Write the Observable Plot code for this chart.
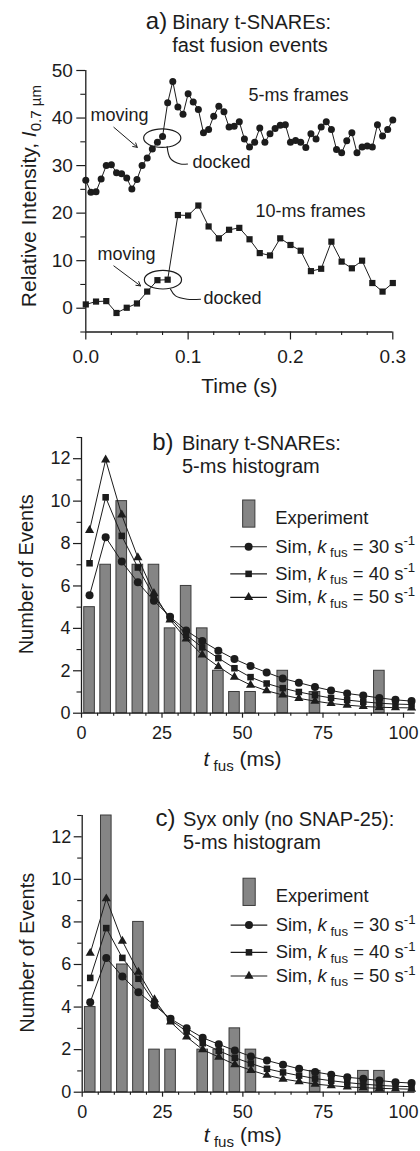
<!DOCTYPE html>
<html>
<head>
<meta charset="utf-8">
<script src="https://cdn.jsdelivr.net/npm/d3@7"></script>
<script src="https://cdn.jsdelivr.net/npm/@observablehq/plot@0.6"></script>
<style>
  body { margin: 0; background: #fff; width: 420px; }
  #chart svg { display: block; }
</style>
</head>
<body>
<div id="chart"></div>
<script>
// ---------------- DATA ----------------
// Panel a: relative intensity vs time
const time5ms = [0,0.005,0.01,0.015,0.02,0.025,0.03,0.035,0.04,0.045,0.05,0.055,0.06,0.065,0.07,0.075,0.08,0.085,0.09,0.095,0.1,0.105,0.11,0.115,0.12,0.125,0.13,0.135,0.14,0.145,0.15,0.155,0.16,0.165,0.17,0.175,0.18,0.185,0.19,0.195,0.2,0.205,0.21,0.215,0.22,0.225,0.23,0.235,0.24,0.245,0.25,0.255,0.26,0.265,0.27,0.275,0.28,0.285,0.29,0.295,0.3];
const intensity5ms = [26.9,24.4,24.5,27.2,30.0,30.2,28.5,28.3,27.4,25.1,27.1,30.0,31.6,33.5,34.9,36.1,43.2,47.7,42.3,40.8,45.1,43.4,41.8,36.9,37.6,40.4,42.5,41.3,38.1,38.3,39.2,35.6,33.9,34.9,37.9,34.9,36.7,37.8,38.5,38.6,34.9,35.3,34.9,33.8,36.7,35.6,38.1,39.2,37.6,33.4,32.7,35.2,36.9,32.7,33.9,34.1,33.9,38.6,36.2,37.6,39.6];
const time10ms = [0,0.01,0.02,0.03,0.04,0.05,0.06,0.07,0.08,0.09,0.1,0.11,0.12,0.13,0.14,0.15,0.16,0.17,0.18,0.19,0.2,0.21,0.22,0.23,0.24,0.25,0.26,0.27,0.28,0.29,0.3];
const intensity10ms = [0.8,1.4,1.5,-1.0,0.1,1.0,3.5,5.9,6.0,19.6,19.5,21.6,17.2,14.7,16.5,16.9,14.5,11.6,11.1,14.7,13.3,12.1,7.8,8.3,14.0,9.8,8.4,10.0,5.3,3.5,5.3];

// Panels b, c: histograms (5-ms bins) and simulations
const binCenters = [2.5,7.5,12.5,17.5,22.5,27.5,32.5,37.5,42.5,47.5,52.5,57.5,62.5,67.5,72.5,77.5,82.5,87.5,92.5,97.5];
const simTimes = [2.5,7.5,12.5,17.5,22.5,27.5,32.5,37.5,42.5,47.5,52.5,57.5,62.5,67.5,72.5,77.5,82.5,87.5,92.5,97.5,102.5];
const kFus = [30, 40, 50];

const expB = [5,7,10,7,7,4,6,4,2,1,1,0,2,0,1,0,0,0,2,0];
const simB30 = [5.56,8.3,7.15,6.17,5.3,4.55,3.9,3.4,2.95,2.55,2.22,1.92,1.64,1.44,1.24,1.07,0.93,0.83,0.72,0.63,0.57];
const simB40 = [7.07,10.18,8.36,6.87,5.5,4.5,3.7,3.1,2.6,2.12,1.7,1.4,1.18,1.0,0.85,0.72,0.62,0.54,0.47,0.43,0.41];
const simB50 = [8.62,11.95,9.35,7.34,5.65,4.4,3.5,2.75,2.2,1.7,1.33,1.06,0.86,0.7,0.57,0.46,0.38,0.32,0.28,0.26,0.25];

const expC = [4,13,6,8,2,2,0,2,2,3,2,0,0,0,1,0,0,1,1,0];
const simC30 = [4.23,6.31,5.44,4.7,4.08,3.45,3.0,2.56,2.25,1.96,1.68,1.49,1.29,1.1,0.95,0.82,0.7,0.63,0.55,0.47,0.43];
const simC40 = [5.37,7.71,6.31,5.33,4.2,3.4,2.85,2.3,1.95,1.62,1.35,1.1,0.93,0.78,0.64,0.54,0.45,0.38,0.32,0.28,0.26];
const simC50 = [6.53,9.09,7.1,5.64,4.35,3.3,2.6,2.0,1.65,1.3,1.03,0.8,0.62,0.5,0.38,0.31,0.25,0.21,0.18,0.16,0.14];

// Tick values
const yMajorA = [0,10,20,30,40,50];
const yMinorA = [-5,5,15,25,35,45];
const xMajorA = [0,0.1,0.2,0.3];
const xMinorA = [0.025,0.05,0.075,0.125,0.15,0.175,0.225,0.25,0.275];
const yMajorH = [0,2,4,6,8,10,12];
const yMinorH = [1,3,5,7,9,11,13];
const xMajorH = [0,25,50,75,100];
const xMinorH = [5,10,15,20,30,35,40,45,55,60,65,70,80,85,90,95];

// ---------------- STYLE ----------------
const FONT = "'Liberation Sans', Arial, Helvetica, sans-serif";
const INK = "#1c1c1c";
const BAR = "#858585";
const BAR_EDGE = "#3c3c3c";
const SYMBOLS = ["circle", "square", "triangle"];
const SYM_R = {circle: 4, square: 3.7, triangle: 3.4};
const TITLE_FS = 20;

// ellipse symbol (2:1) for annotations
const ellipseSymbol = {
  draw(ctx, size) {
    const ry = Math.sqrt(size / Math.PI), rx = 2 * ry, k = 0.5523;
    ctx.moveTo(rx, 0);
    ctx.bezierCurveTo(rx, k * ry, k * rx, ry, 0, ry);
    ctx.bezierCurveTo(-k * rx, ry, -rx, k * ry, -rx, 0);
    ctx.bezierCurveTo(-rx, -k * ry, -k * rx, -ry, 0, -ry);
    ctx.bezierCurveTo(k * rx, -ry, rx, -k * ry, rx, 0);
    ctx.closePath();
  }
};

const T = d => d;

// ---------------- PANEL A ----------------
const s5 = time5ms.map((t, i) => ({t, v: intensity5ms[i]}));
const s10 = time10ms.map((t, i) => ({t, v: intensity10ms[i]}));

const plotA = Plot.plot({
  width: 420, height: 400,
  marginLeft: 85.3, marginRight: 27.7, marginTop: 70, marginBottom: 68.5,
  x: {domain: [0, 0.3]},
  y: {domain: [-5, 50]},
  style: {fontFamily: FONT, color: INK, background: "white", display: "block"},
  marks: [
    Plot.ruleY([-5], {stroke: INK, strokeWidth: 1.3}),
    Plot.ruleX([0], {stroke: INK, strokeWidth: 1.3}),
    Plot.axisY(yMajorA, {tickSize: 9, tickPadding: 4, fontSize: 19, label: null, strokeWidth: 1.2}),
    Plot.axisY(yMinorA, {tickSize: 5, tickFormat: () => "", label: null, strokeWidth: 1.1}),
    Plot.axisX(xMajorA, {tickSize: 8, tickPadding: 9, fontSize: 19, label: null, tickFormat: d3.format(".1f"), strokeWidth: 1.2}),
    Plot.axisX(xMinorA, {tickSize: 3.5, tickFormat: () => "", label: null, strokeWidth: 1.1}),

    Plot.line(s5, {x: "t", y: "v", stroke: INK, strokeWidth: 1}),
    Plot.dot(s5, {x: "t", y: "v", r: 3.5, fill: INK, stroke: "none"}),
    Plot.line(s10, {x: "t", y: "v", stroke: INK, strokeWidth: 1}),
    Plot.dot(s10, {x: "t", y: "v", symbol: "square", r: 3.5, fill: INK, stroke: "none"}),

    // annotations
    Plot.text(["5-ms frames"], {x: 0.159, y: 44.75, text: T, textAnchor: "start", fontSize: 18, fill: INK}),
    Plot.text(["10-ms frames"], {x: 0.1658, y: 20.3, text: T, textAnchor: "start", fontSize: 18, fill: INK}),
    Plot.text(["moving"], {x: 0.0047, y: 40.6, text: T, textAnchor: "start", fontSize: 18, fill: INK}),
    Plot.text(["moving"], {x: 0.0114, y: 11.4, text: T, textAnchor: "start", fontSize: 18, fill: INK}),
    Plot.text(["docked"], {x: 0.1043, y: 30.7, text: T, textAnchor: "start", fontSize: 18, fill: INK}),
    Plot.text(["docked"], {x: 0.115, y: 2.2, text: T, textAnchor: "start", fontSize: 18, fill: INK}),
    Plot.arrow([{x1: 0.0274, y1: 38.05, x2: 0.0503, y2: 33.84}, {x1: 0.0274, y1: 8.9, x2: 0.0535, y2: 4.7}],
      {x1: "x1", y1: "y1", x2: "x2", y2: "y2", stroke: INK, strokeWidth: 1, headLength: 7}),
    Plot.dot([{x: 0.0747, y: 35.78}, {x: 0.0754, y: 6.0}],
      {x: "x", y: "y", r: 9.3, symbol: ellipseSymbol, fill: "none", stroke: INK, strokeWidth: 1.2}),
    Plot.line([
      {id: 1, x: 0.0795, y: 33.99}, {id: 1, x: 0.0828, y: 31.46}, {id: 1, x: 0.0925, y: 30.34}, {id: 1, x: 0.0994, y: 30.34},
      {id: 2, x: 0.0828, y: 4.0}, {id: 2, x: 0.0877, y: 2.59}, {id: 2, x: 0.0991, y: 1.9}, {id: 2, x: 0.1121, y: 1.9}
    ], {x: "x", y: "y", z: "id", curve: "catmull-rom", stroke: INK, strokeWidth: 1.1}),

    // title
    Plot.text(["a)"], {x: 0.0795, y: 60.4, text: T, textAnchor: "end", fontSize: 24, fill: INK}),
    Plot.text(["Binary t-SNAREs:"], {x: 0.0844, y: 60.06, text: T, textAnchor: "start", fontSize: TITLE_FS, fill: INK}),
    Plot.text(["fast fusion events"], {x: 0.0844, y: 55.2, text: T, textAnchor: "start", fontSize: TITLE_FS, fill: INK}),

    // axis titles
    Plot.text(["Time (s)"], {x: 0.15, y: -16.5, text: T, fontSize: 21, fill: INK}),
    Plot.text(["Relative Intensity, |i:I|sub:0.7 µm"], {x: -0.0557, y: 23.6, text: T, rotate: -90, fontSize: 21, fill: INK})
  ]
});

// ---------------- PANELS B, C ----------------
function histPanel(cfg) {
  const bars = binCenters.map((c, i) => ({c, n: cfg.exp[i]})).filter(d => d.n > 0);
  const series = cfg.sims.map(vals => simTimes.map((t, i) => ({t, v: vals[i]})));
  const rowY = [7.85, 6.57, 5.46];
  const marks = [
    Plot.rectY(bars, {x1: d => d.c - 1.65, x2: d => d.c + 1.65, y: "n", fill: BAR, stroke: BAR_EDGE, strokeWidth: 1}),
    Plot.ruleY([0], {stroke: INK, strokeWidth: 1.3}),
    Plot.ruleX([0], {stroke: INK, strokeWidth: 1.3}),
    Plot.axisY(yMajorH, {tickSize: 8, tickPadding: 3, fontSize: 18, label: null, strokeWidth: 1.2}),
    Plot.axisY(yMinorH, {tickSize: 4.5, tickFormat: () => "", label: null, strokeWidth: 1.1}),
    Plot.axisX(xMajorH, {tickSize: 5, tickPadding: 8, fontSize: 18, label: null, strokeWidth: 1.2}),
    Plot.axisX(xMinorH, {tickSize: 3, tickFormat: () => "", label: null, strokeWidth: 1.1})
  ];
  series.forEach(s => {
    marks.push(Plot.line(s, {x: "t", y: "v", stroke: INK, strokeWidth: 1}));
  });
  series.forEach((s, j) => {
    marks.push(Plot.dot(s, {x: "t", y: "v", symbol: SYMBOLS[j], r: SYM_R[SYMBOLS[j]], fill: INK, stroke: "none"}));
  });
  // legend
  marks.push(
    Plot.rect([0], {x1: 50.2, x2: 54, y1: 8.75, y2: 10.03, fill: BAR, stroke: BAR_EDGE, strokeWidth: 1}),
    Plot.text(["Experiment"], {x: 60.2, y: 9.2, text: T, textAnchor: "start", fontSize: 18.4, fill: INK})
  );
  kFus.forEach((k, j) => {
    marks.push(
      Plot.link([0], {x1: 46.2, x2: 57.6, y1: rowY[j], y2: rowY[j], stroke: INK, strokeWidth: 1.1}),
      Plot.dot([0], {x: 51.9, y: rowY[j], symbol: SYMBOLS[j], r: SYM_R[SYMBOLS[j]], fill: INK, stroke: "none"}),
      Plot.text([`Sim, |i:k|sub: fus| = ${k} s|sup:-1`], {x: 60.2, y: rowY[j], text: T, textAnchor: "start", fontSize: 18.4, fill: INK})
    );
  });
  // titles
  marks.push(
    Plot.text([cfg.tag], {x: cfg.tagX, y: cfg.tagY, text: T, textAnchor: "end", fontSize: 24, fill: INK}),
    Plot.text([cfg.title1], {x: cfg.titleX, y: cfg.title1Y, text: T, textAnchor: "start", fontSize: TITLE_FS, fill: INK}),
    Plot.text([cfg.title2], {x: cfg.titleX, y: cfg.title2Y, text: T, textAnchor: "start", fontSize: TITLE_FS, fill: INK}),
    Plot.text(["|i:t|sub: fus| (ms)"], {x: 50, y: cfg.xLabelY, text: T, fontSize: 21, fill: INK}),
    Plot.text(["Number of Events"], {x: -16.9, y: 6.55, text: T, rotate: -90, fontSize: 20, fill: INK})
  );
  return Plot.plot({
    width: 420, height: cfg.height,
    marginLeft: cfg.marginLeft, marginRight: 5.4, marginTop: cfg.marginTop, marginBottom: cfg.marginBottom,
    x: {domain: [0, 103.6]},
    y: {domain: [0, 13]},
    style: {fontFamily: FONT, color: INK, background: "white", display: "block"},
    marks
  });
}

const plotB = histPanel({
  height: 379, marginLeft: 81, marginTop: 37, marginBottom: 66.3,
  exp: expB, sims: [simB30, simB40, simB50],
  tag: "b)", tagX: 28.6, tagY: 12.78,
  title1: "Binary t-SNAREs:", title2: "5-ms histogram", titleX: 31.2, title1Y: 12.72, title2Y: 11.64,
  xLabelY: -2.15
});
const plotC = histPanel({
  height: 372, marginLeft: 81.7, marginTop: 36, marginBottom: 59.3,
  exp: expC, sims: [simC30, simC40, simC50],
  tag: "c)", tagX: 29.0, tagY: 12.89,
  title1: "Syx only (no SNAP-25):", title2: "5-ms histogram", titleX: 31.4, title1Y: 12.83, title2Y: 11.75,
  xLabelY: -2.0
});

const chart = document.getElementById("chart");
chart.append(plotA, plotB, plotC);

// ---------------- rich text (italic / sub / superscript) ----------------
function rich(svg) {
  const NS = "http://www.w3.org/2000/svg";
  svg.querySelectorAll("text").forEach(el => {
    const s = el.textContent;
    if (!s.includes("|")) return;
    const fs = parseFloat(getComputedStyle(el).fontSize) || 16;
    el.textContent = "";
    el.style.whiteSpace = "pre";
    let shift = 0;
    s.split("|").forEach(part => {
      if (!part) return;
      const m = /^(i|sub|sup):(.*)$/.exec(part);
      const kind = m ? m[1] : "n";
      const txt = m ? m[2] : part;
      const ts = document.createElementNS(NS, "tspan");
      let target = 0;
      if (kind === "sub") { ts.setAttribute("font-size", (0.72 * fs).toFixed(1)); target = 0.25 * fs; }
      if (kind === "sup") { ts.setAttribute("font-size", (0.72 * fs).toFixed(1)); target = -0.4 * fs; }
      if (kind === "i") ts.setAttribute("font-style", "italic");
      const dy = target - shift;
      if (dy) ts.setAttribute("dy", dy.toFixed(2));
      shift = target;
      ts.textContent = txt;
      el.appendChild(ts);
    });
  });
}
[plotA, plotB, plotC].forEach(rich);
</script>
</body>
</html>
